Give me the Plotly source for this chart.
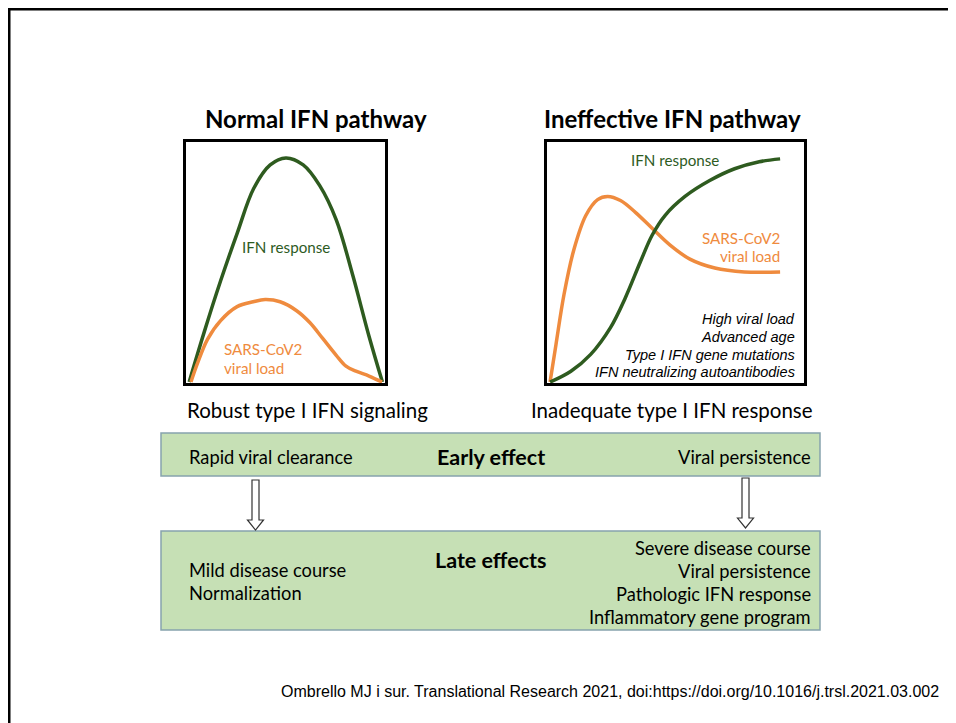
import plotly.graph_objects as go

# page body has an 8px margin, so the figure starts at page pixel (8, 8)
OFF = 8
W, H = 948, 715

# ---------------- data (x = time 0-100, y = level 0-100) -------------
normal_ifn_x = [1.6, 9.1, 17.4, 25.7, 34.0, 42.3, 50.2, 58.9, 67.2, 75.5, 83.7, 92.0, 98.7]
normal_ifn_y = [0.4, 21.0, 42.4, 62.1, 80.7, 90.5, 93.4, 90.5, 81.9, 67.7, 45.0, 19.3, 0.4]

normal_virus_x = [2.5, 5.8, 10.8, 17.4, 25.7, 33.8, 39.8, 47.3, 55.6, 62.2, 68.7, 75.5, 80.4, 85.4, 92.0, 98.5]
normal_virus_y = [0.4, 8.2, 18.1, 25.9, 31.7, 33.7, 34.6, 33.7, 30.0, 25.1, 18.5, 11.5, 7.0, 4.9, 2.9, 0.4]

ineff_ifn_x = [1.2, 9.3, 17.0, 24.7, 30.5, 36.3, 40.9, 45.9, 53.7, 63.3, 73.0, 82.6, 90.7]
ineff_ifn_y = [0.4, 4.9, 11.9, 23.0, 35.4, 50.2, 61.3, 69.5, 77.4, 84.0, 88.9, 91.8, 93.0]

ineff_virus_x = [1.2, 3.5, 6.6, 10.4, 15.1, 19.7, 23.6, 28.6, 34.4, 40.9, 47.9, 55.6, 65.3, 76.8, 90.7]
ineff_virus_y = [0.4, 16.0, 36.6, 55.1, 69.5, 76.1, 77.4, 75.7, 70.8, 64.2, 57.2, 51.4, 47.7, 46.1, 46.1]

panel_titles = ["Normal IFN pathway", "Ineffective IFN pathway"]
panel_captions = ["Robust type I IFN signaling", "Inadequate type I IFN response"]
risk_factors = ["High viral load", "Advanced age", "Type I IFN gene mutations", "IFN neutralizing autoantibodies"]
early_left, early_mid, early_right = "Rapid viral clearance", "Early effect", "Viral persistence"
late_left = ["Mild disease course", "Normalization"]
late_mid = "Late effects"
late_right = ["Severe disease course", "Viral persistence", "Pathologic IFN response", "Inflammatory gene program"]
citation = "Ombrello MJ i sur. Translational Research 2021, doi:https://doi.org/10.1016/j.trsl.2021.03.002"

GREEN = "#2e5b1f"
ORANGE = "#ef8b3e"
BOXFILL = "#c6e0b5"
BOXLINE = "#86a3ad"
BODY = "Lato, 'Open Sans', sans-serif"
ARIAL = "'Liberation Sans', Arial, sans-serif"


def X(px):
    return (px - OFF) / W


def Y(py):
    return 1 - (py - OFF) / H


fig = go.Figure()

line_kw = dict(mode="lines", line_shape="spline", hoverinfo="skip", showlegend=False)
fig.add_trace(go.Scatter(x=normal_ifn_x, y=normal_ifn_y, line=dict(color=GREEN, width=3.5), xaxis="x", yaxis="y", **line_kw))
fig.add_trace(go.Scatter(x=normal_virus_x, y=normal_virus_y, line=dict(color=ORANGE, width=3.5), xaxis="x", yaxis="y", **line_kw))
fig.add_trace(go.Scatter(x=ineff_virus_x, y=ineff_virus_y, line=dict(color=ORANGE, width=3.5), xaxis="x2", yaxis="y2", **line_kw))
fig.add_trace(go.Scatter(x=ineff_ifn_x, y=ineff_ifn_y, line=dict(color=GREEN, width=3.5), xaxis="x2", yaxis="y2", **line_kw))

ax_common = dict(range=[0, 100], showgrid=False, zeroline=False, showticklabels=False, ticks="",
                 showline=True, mirror=True, linecolor="black", linewidth=2.5, fixedrange=True)

fig.update_layout(
    width=W, height=H,
    margin=dict(l=0, r=0, t=0, b=0),
    paper_bgcolor="white", plot_bgcolor="white",
    xaxis=dict(domain=[X(186), X(385)], anchor="y", **ax_common),
    yaxis=dict(domain=[Y(383), Y(142)], anchor="x", **ax_common),
    xaxis2=dict(domain=[X(547), X(804)], anchor="y2", **ax_common),
    yaxis2=dict(domain=[Y(383), Y(142)], anchor="x2", **ax_common),
)

shapes = []
# slide frame
shapes.append(dict(type="line", xref="paper", yref="paper", x0=X(9), x1=X(9), y0=Y(8), y1=Y(740),
                   line=dict(color="black", width=3)))
shapes.append(dict(type="line", xref="paper", yref="paper", x0=X(8), x1=X(970), y0=Y(9), y1=Y(9),
                   line=dict(color="black", width=3)))
# effect boxes
shapes.append(dict(type="rect", xref="paper", yref="paper", x0=X(161), x1=X(820), y0=Y(476), y1=Y(433),
                   fillcolor=BOXFILL, line=dict(color=BOXLINE, width=1.5), layer="below"))
shapes.append(dict(type="rect", xref="paper", yref="paper", x0=X(161), x1=X(820), y0=Y(630), y1=Y(531),
                   fillcolor=BOXFILL, line=dict(color=BOXLINE, width=1.5), layer="below"))


def arrow(cx, top, head_start, tip, shaft=7, head=16):
    pts = [(cx - shaft / 2, top), (cx + shaft / 2, top), (cx + shaft / 2, head_start), (cx + head / 2, head_start),
           (cx, tip), (cx - head / 2, head_start), (cx - shaft / 2, head_start)]
    path = "M " + " L ".join(f"{X(a):.5f},{Y(b):.5f}" for a, b in pts) + " Z"
    return dict(type="path", xref="paper", yref="paper", path=path, fillcolor="white",
                line=dict(color="#333333", width=1.2))


shapes.append(arrow(255.5, 480, 520, 530))
shapes.append(arrow(745.5, 478, 518, 528))
fig.update_layout(shapes=shapes)

ann = []


def text(s, x, y, size, color="black", family=BODY, xanchor="center", bold=False, italic=False):
    t = s
    if bold:
        t = f"<b>{t}</b>"
    if italic:
        t = f"<i>{t}</i>"
    ann.append(dict(text=t, x=X(x), y=Y(y), xref="paper", yref="paper", xanchor=xanchor, yanchor="middle",
                    showarrow=False, font=dict(size=size, color=color, family=family)))


# titles
text(panel_titles[0], 315.5, 119, 24, bold=True)
text(panel_titles[1], 672.5, 119, 24, bold=True)
# captions
text(panel_captions[0], 307, 410, 20.5)
text(panel_captions[1], 672, 410, 20.5)
# in-plot labels
text("IFN response", 286, 247, 15.2, color=GREEN)
text("SARS-CoV2", 222, 349, 15.2, color=ORANGE, xanchor="left")
text("viral load", 222, 368, 15.2, color=ORANGE, xanchor="left")
text("IFN response", 675, 160, 15.2, color=GREEN)
text("SARS-CoV2", 782, 238, 15.2, color=ORANGE, xanchor="right")
text("viral load", 782, 256, 15.2, color=ORANGE, xanchor="right")
for i, s in enumerate(risk_factors):
    text(s, 797, 319 + 17.8 * i, 14.5, family=ARIAL, xanchor="right", italic=True)
# early box
text(early_left, 187, 457, 18.3, xanchor="left")
text(early_mid, 491, 457, 21.5, bold=True)
text(early_right, 813, 457, 18.3, xanchor="right")
# late box
for i, s in enumerate(late_left):
    text(s, 187, 570 + 23 * i, 18.3, xanchor="left")
text(late_mid, 491, 560, 21.5, bold=True)
for i, s in enumerate(late_right):
    text(s, 813, 548 + 23 * i, 18.3, xanchor="right")
# citation
text(citation, 941, 691, 16, family=ARIAL, xanchor="right")

fig.update_layout(annotations=ann)
fig.write_html("out.html")
